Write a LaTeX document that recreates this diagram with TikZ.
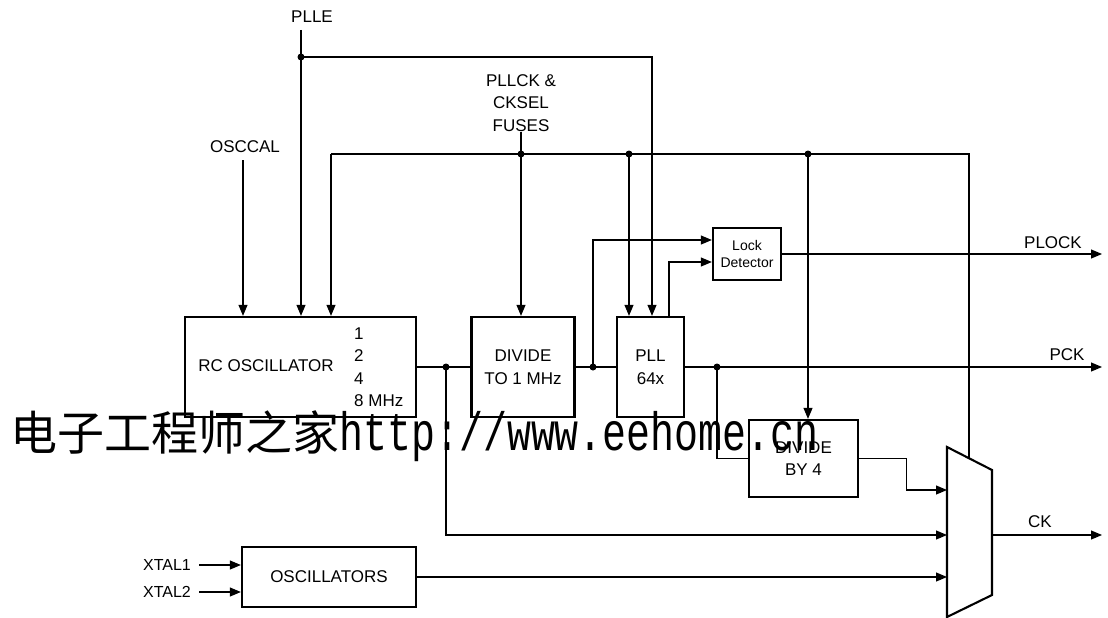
\documentclass[tikz,border=0pt]{standalone}
\usepackage{fontspec}
\setmainfont{Liberation Sans}
\newfontfamily\cjkfont{Noto Sans CJK SC}
\newfontfamily\wmfont[FakeStretch=0.74]{Liberation Mono}
\usetikzlibrary{arrows.meta, positioning, calc}

\begin{document}
\begin{tikzpicture}[x=1pt, y=1pt,
  wire/.style={line width=1.1pt},
  sig/.style={wire, -{Triangle[length=11pt,width=9pt]}},
  blk/.style={draw, line width=2.3pt, inner sep=0pt, align=center, font=\fontsize{17}{22.5}\selectfont},
  lbl/.style={inner sep=0pt, align=center, font=\fontsize{17}{22.5}\selectfont},
  xlbl/.style={inner sep=0pt, font=\fontsize{16}{20}\selectfont}]
  \useasboundingbox (0,0) rectangle (1108,-618);
  % Blocks
  \node[blk, minimum width=231pt, minimum height=100pt] (rc) at (300.5,-367) {};
  \node[lbl] (rcname) at (266,-366) {RC OSCILLATOR};
  \node[lbl, anchor=west, align=left] (rcfreq) at (354,-367) {1\\2\\4\\8 MHz};
  \node[blk, minimum width=103pt, minimum height=100pt] (div1) at (523,-367) {DIVIDE\\TO 1 MHz};
  \node[blk, minimum width=67pt, minimum height=100pt] (pll) at (650.5,-367) {PLL\\64x};
  \node[blk, minimum width=68pt, minimum height=52pt, font=\fontsize{14}{17}\selectfont] (lock) at (747,-254) {Lock\\Detector};
  \node[blk, minimum width=109pt, minimum height=77pt] (div4) at (803.5,-458.5) {DIVIDE\\BY 4};
  \node[blk, minimum width=174pt, minimum height=60pt] (osc) at (329,-577) {OSCILLATORS};
  % Labels
  \node[lbl] (plle) at (312,-17) {PLLE};
  \node[lbl] (osccal) at (245,-147) {OSCCAL};
  \node[lbl] (fuses) at (521,-103) {PLLCK \&\\CKSEL\\FUSES};
  \node[lbl] (plock) at (1053,-243) {PLOCK};
  \node[lbl] (pck) at (1067,-355) {PCK};
  \node[lbl] (ck) at (1040,-522) {CK};
  \node[xlbl] (xtal1) at (167,-565) {XTAL1};
  \node[xlbl] (xtal2) at (167,-592) {XTAL2};
  % Junctions and free ends
  \coordinate (plletop) at (301,-30);
  \coordinate (jplle) at (301,-57);
  \coordinate (osccaltop) at (243,-160);
  \coordinate (jfuse) at (521,-154);
  \coordinate (busl) at (331,-154);
  \coordinate (jpll) at (629,-154);
  \coordinate (jdiv) at (808,-154);
  \coordinate (busr) at (969,-154);
  \coordinate (jrc) at (446,-367);
  \coordinate (jdiv1) at (593,-367);
  \coordinate (jpck) at (717,-367);
  \coordinate (plockend) at (1102,-254);
  \coordinate (pckend) at (1102,-367);
  \coordinate (ckend) at (1102,-535);
  % Mux
  \coordinate (mtl) at (947,-447);
  \coordinate (mtr) at (992,-470);
  \coordinate (mbr) at (992,-595);
  \coordinate (mbl) at (947,-617);
  \coordinate (muxa) at (947,-490);
  \coordinate (muxb) at (947,-535);
  \coordinate (muxc) at (947,-577);
  \coordinate (muxo) at (992,-535);
  \coordinate (muxsel) at (969,-458);
  \draw[line width=2.1pt, line join=miter] (mtl) -- (mtr) -- (mbr) -- (mbl) -- cycle;
  % Control lines
  \draw[wire] (plletop) -- (jplle);
  \draw[sig] (jplle) -- (jplle |- rc.north);
  \draw[sig] (jplle) -| ([xshift=1.5pt]pll.north);
  \draw[sig] (osccaltop) -- (osccaltop |- rc.north);
  \draw[sig] (fuses.south) -- (fuses.south |- div1.north);
  \draw[wire] (busl) -- (busr) -- (muxsel);
  \draw[sig] (busl) -- (busl |- rc.north);
  \draw[sig] (jpll) -- (jpll |- pll.north);
  \draw[sig] (jdiv) -- (jdiv |- div4.north);
  % Clock path
  \draw[wire] (rc.east) -- (div1.west);
  \draw[wire] (div1.east) -- (pll.west);
  \draw[sig] (jrc) |- (muxb);
  \draw[sig] (jdiv1) |- ([yshift=14pt]lock.west);
  \draw[sig] ([xshift=18.5pt]pll.north) |- ([yshift=-8pt]lock.west);
  \draw[sig] (lock.east) -- (plockend);
  \draw[sig] (pll.east) -- (pckend);
  \draw[wire] (jpck) |- (div4.west);
  \draw[sig] (div4.east) -- ++(47pt,0) |- (muxa);
  \draw[sig] (osc.east) -- (muxc);
  \draw[sig] (muxo) -- (ckend);
  \draw[sig] ([xshift=8pt]xtal1.east) -- (xtal1 -| osc.west);
  \draw[sig] ([xshift=8pt]xtal2.east) -- (xtal2 -| osc.west);
  % Dots
  \foreach \j in {jplle, jfuse, jpll, jdiv, jrc, jdiv1, jpck}
    \fill (\j) circle (3.5pt);
  % Watermark
  \node[anchor=base west, inner sep=0pt] (wm) at (10,-450)
    {{\cjkfont\fontsize{47}{47}\selectfont 电子工程师之家}{\wmfont\fontsize{54}{54}\selectfont http://www.eehome.cn}};
\end{tikzpicture}
\end{document}
